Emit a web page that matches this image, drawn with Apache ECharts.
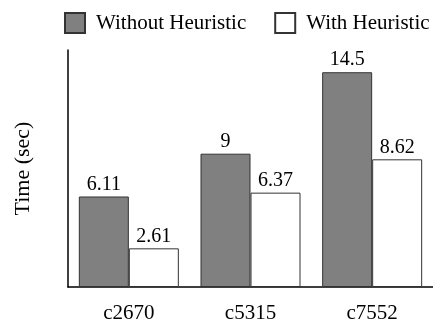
<!DOCTYPE html>
<html><head><meta charset="utf-8">
<script src="https://cdn.jsdelivr.net/npm/echarts@6/dist/echarts.min.js"></script>
<style>html,body{margin:0;padding:0;background:#fff}#c{width:433px;height:324px}</style>
</head><body><div id="c"></div>
<script>
const categories = ['c2670', 'c5315', 'c7552'];
const withoutHeuristic = [6.11, 9, 14.5];
const withHeuristic = [2.61, 6.37, 8.62];
const seriesNames = ['Without Heuristic', 'With Heuristic'];
const yMax = 16;

const font = 'Liberation Serif';
const chart = echarts.init(document.getElementById('c'));
const lbl = {show: true, position: 'top', distance: 2, color: '#000', fontFamily: font, fontSize: 20};
chart.setOption({
  animation: false,
  textStyle: {fontFamily: font},
  legend: {
    left: 64, top: 12, padding: 0, itemWidth: 20, itemHeight: 20, itemGap: 28, icon: 'rect',
    textStyle: {fontFamily: font, fontSize: 21, color: '#000', padding: [0, 0, 0, 6]},
    data: seriesNames
  },
  grid: {left: 68, right: 0, top: 50, bottom: 36},
  xAxis: {
    type: 'category', data: categories,
    axisLine: {lineStyle: {color: '#000', width: 1.5}},
    axisTick: {show: false},
    axisLabel: {color: '#000', fontFamily: font, fontSize: 21, margin: 16}
  },
  yAxis: {
    type: 'value', min: 0, max: yMax,
    name: 'Time (sec)', nameLocation: 'middle', nameGap: 34, nameRotate: 90,
    nameTextStyle: {color: '#000', fontFamily: font, fontSize: 22},
    axisLine: {show: true, lineStyle: {color: '#000', width: 1.5}},
    axisTick: {show: false}, axisLabel: {show: false}, splitLine: {show: false}
  },
  series: [
    {name: seriesNames[0], type: 'bar', data: withoutHeuristic, barWidth: 50, barGap: '0%',
     itemStyle: {color: '#808080', borderColor: '#333', borderWidth: 1}, label: lbl},
    {name: seriesNames[1], type: 'bar', data: withHeuristic, barWidth: 50,
     itemStyle: {color: '#fff', borderColor: '#333', borderWidth: 1}, label: lbl}
  ]
});
</script></body></html>
